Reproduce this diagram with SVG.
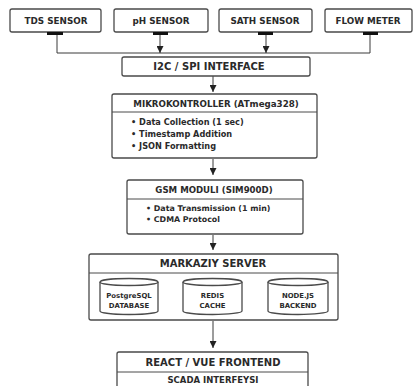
<svg xmlns="http://www.w3.org/2000/svg" width="417" height="386" viewBox="0 0 417 386">
<defs>
<style>
.box{fill:#fff;stroke:#4a4a4a;stroke-width:1.3}
.div{stroke:#4a4a4a;stroke-width:1}
.t{font-family:"DejaVu Sans","Open Sans",sans-serif;font-weight:bold;fill:#2a2a2a;text-anchor:middle}
.b{font-family:"DejaVu Sans","Open Sans",sans-serif;font-weight:bold;fill:#2a2a2a}
.ln{stroke:#3a3a3a;stroke-width:1;fill:none}
.tab{fill:#111}
</style>
<marker id="ah" viewBox="0 0 10 10" refX="10" refY="5" markerWidth="7" markerHeight="7" orient="auto-start-reverse" markerUnits="userSpaceOnUse">
<path d="M0,0 L10,5 L0,10 z" fill="#222"/>
</marker>
</defs>
<rect width="417" height="386" fill="#fff"/>

<g id="connectors">
<path class="ln" d="M57,35 V53 H370 V35"/>
<line class="ln" x1="160" y1="35" x2="160" y2="53" marker-end="url(#ah)"/>
<line class="ln" x1="266" y1="35" x2="266" y2="53" marker-end="url(#ah)"/>
<line class="ln" x1="213" y1="76" x2="213" y2="92" marker-end="url(#ah)"/>
<line class="ln" x1="213" y1="159" x2="213" y2="175" marker-end="url(#ah)"/>
<line class="ln" x1="213" y1="235" x2="213" y2="250" marker-end="url(#ah)"/>
<line class="ln" x1="213" y1="321" x2="213" y2="348" marker-end="url(#ah)"/>
<line class="ln" x1="161" y1="296" x2="181" y2="296" marker-start="url(#ah)" marker-end="url(#ah)"/>
<line class="ln" x1="245" y1="296" x2="266" y2="296" marker-start="url(#ah)" marker-end="url(#ah)"/>
</g>

<g id="tds">
<rect class="box" x="10" y="9" width="91" height="23" rx="2"/>
<rect class="tab" x="47" y="32" width="16" height="3"/>
<text class="t" x="56" y="24" font-size="8.8">TDS SENSOR</text>
</g>
<g id="ph">
<rect class="box" x="114" y="9" width="94" height="23" rx="2"/>
<rect class="tab" x="153" y="32" width="15" height="3"/>
<text class="t" x="161" y="24" font-size="8.8">pH SENSOR</text>
</g>
<g id="sath">
<rect class="box" x="219" y="9" width="93" height="23" rx="2"/>
<rect class="tab" x="258" y="32" width="15" height="3"/>
<text class="t" x="265" y="24" font-size="8.8">SATH SENSOR</text>
</g>
<g id="flow">
<rect class="box" x="325" y="9" width="87" height="23" rx="2"/>
<rect class="tab" x="363" y="32" width="15" height="3"/>
<text class="t" x="368" y="24" font-size="8.8">FLOW METER</text>
</g>

<g id="i2c">
<rect class="box" x="122" y="57" width="188" height="19" rx="2"/>
<text class="t" x="209" y="70" font-size="10">I2C / SPI INTERFACE</text>
</g>

<g id="mikro">
<rect class="box" x="112" y="94" width="205" height="64" rx="2"/>
<line class="div" x1="112" y1="112" x2="317" y2="112"/>
<text class="t" x="216" y="107" font-size="8.7">MIKROKONTROLLER (ATmega328)</text>
<text class="b" x="131" y="125" font-size="8.2">• Data Collection (1 sec)</text>
<text class="b" x="131" y="137" font-size="8.2">• Timestamp Addition</text>
<text class="b" x="131" y="149" font-size="8.2">• JSON Formatting</text>
</g>

<g id="gsm">
<rect class="box" x="127" y="180" width="176" height="54" rx="2"/>
<line class="div" x1="127" y1="199" x2="303" y2="199"/>
<text class="t" x="214" y="193" font-size="8.6">GSM MODULI (SIM900D)</text>
<text class="b" x="146" y="211" font-size="7.9">• Data Transmission (1 min)</text>
<text class="b" x="146" y="222" font-size="7.9">• CDMA Protocol</text>
</g>

<g id="server">
<rect class="box" x="89" y="254" width="249" height="66" rx="2"/>
<line class="div" x1="89" y1="273" x2="338" y2="273"/>
<text class="t" x="213" y="267" font-size="10">MARKAZIY SERVER</text>
</g>
<g id="postgres">
<path class="box" d="M100,282 V311 A29,3.5 0 0 0 158,311 V282"/>
<ellipse class="box" cx="129" cy="282" rx="29" ry="3.5"/>
<text class="t" x="129" y="298" font-size="6.9">PostgreSQL</text>
<text class="t" x="129" y="308" font-size="6.9">DATABASE</text>
</g>
<g id="redis">
<path class="box" d="M183,282 V311 A29.5,3.5 0 0 0 242,311 V282"/>
<ellipse class="box" cx="212.5" cy="282" rx="29.5" ry="3.5"/>
<text class="t" x="212.5" y="298" font-size="6.9">REDIS</text>
<text class="t" x="212.5" y="308" font-size="6.9">CACHE</text>
</g>
<g id="node">
<path class="box" d="M268,282 V311 A30,3.5 0 0 0 328,311 V282"/>
<ellipse class="box" cx="298" cy="282" rx="30" ry="3.5"/>
<text class="t" x="298" y="298" font-size="6.9">NODE.JS</text>
<text class="t" x="298" y="308" font-size="6.9">BACKEND</text>
</g>

<g id="frontend">
<rect class="box" x="117" y="352" width="191" height="40" rx="2"/>
<line class="div" x1="117" y1="372" x2="308" y2="372"/>
<text class="t" x="213" y="366" font-size="10">REACT / VUE FRONTEND</text>
<text class="t" x="213" y="383" font-size="8.5">SCADA INTERFEYSI</text>
</g>
</svg>
